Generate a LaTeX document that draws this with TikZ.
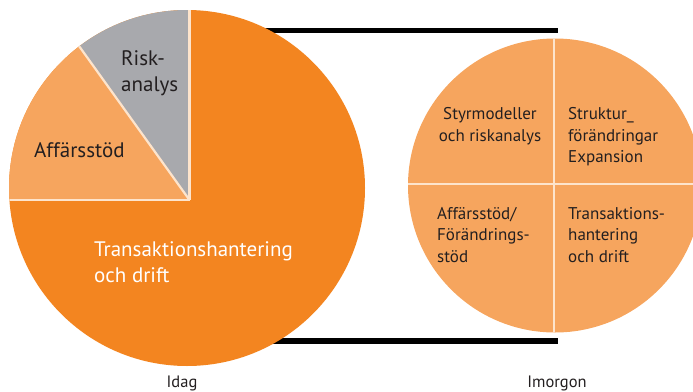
\documentclass[tikz,border=0pt]{standalone}
\usepackage{fontspec}
\setmainfont{PT Sans}
\definecolor{darkor}{HTML}{F38520}
\definecolor{lightor}{HTML}{F6A55E}
\definecolor{riskgrey}{HTML}{A8A9AD}
\definecolor{sep}{HTML}{FDE4CC}
\definecolor{txt}{HTML}{231F20}
\tikzset{
  bar/.style={line width=5.5pt, black},
  sepline/.style={line width=2.2pt, sep},
  bigtxt/.style={inner sep=0pt, font=\fontsize{21}{25.5}\selectfont, text=txt},
  smalltxt/.style={inner sep=0pt, font=\fontsize{17}{21.5}\selectfont, text=txt},
  captxt/.style={inner sep=0pt, font=\fontsize{16.5}{18}\selectfont, text=txt},
}
\begin{document}
\begin{tikzpicture}[x=1pt,y=-1pt]
\useasboundingbox (0,0) rectangle (693,391);
% connecting bars (behind the pies)
\coordinate (t1) at (190,30.5);
\coordinate (t2) at (558,30.5);
\coordinate (b1) at (190,341);
\coordinate (b2) at (558,341);
\draw[bar] (t1) -- (t2);
\draw[bar] (b1) -- (b2);
% left pie
\fill[darkor] (187,188) circle (178);
\begin{scope}
  \clip (187,188) circle (178);
  \coordinate (apex) at (189.5,200);
  \fill[lightor] (apex) -- (0,200) -- (0,0) -- (46,0) -- cycle;
  \fill[riskgrey] (apex) -- (46,0) -- (189.5,0) -- cycle;
  \draw[sepline] (apex) -- (0,200);
  \draw[sepline] (apex) -- (46,0);
  \draw[sepline] (apex) -- (189.5,0);
\end{scope}
\node[bigtxt, anchor=west, align=left] (risk) at (121,73) {Risk-\\analys};
\node[bigtxt, anchor=west] (aff) at (34,150) {Affärsstöd};
\node[bigtxt, anchor=west, align=left, text=white] (trans) at (94,262) {Transaktionshantering\\och drift};
% right pie
\fill[lightor] (555,185.5) circle (147);
\begin{scope}
  \clip (555,185.5) circle (147);
  \draw[sepline] (554,30) -- (554,340);
  \draw[sepline] (400,184) -- (710,184);
\end{scope}
\node[smalltxt, align=center] (styr) at (490,126) {Styrmodeller\\och riskanalys};
\node[smalltxt, anchor=west, align=left] (strukt) at (568,137) {Struktur\_\\förändringar\\Expansion};
\node[smalltxt, anchor=west, align=left] (affr) at (437,235) {Affärsstöd/\\Förändrings-\\stöd};
\node[smalltxt, anchor=west, align=left] (transr) at (568,235) {Transaktions-\\hantering\\och drift};
% captions
\node[captxt] (idag) at (182,383) {Idag};
\node[captxt] (imorgon) at (557,383) {Imorgon};
\end{tikzpicture}
\end{document}
